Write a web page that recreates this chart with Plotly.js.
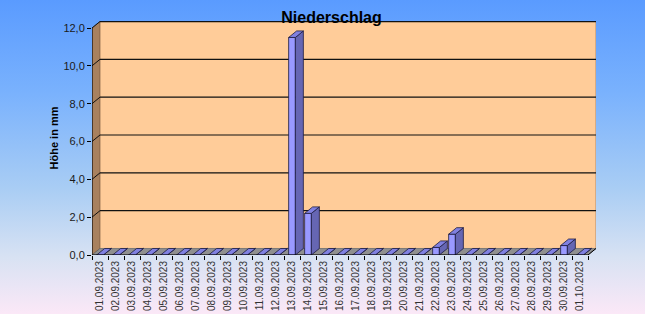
<!DOCTYPE html>
<html>
<head>
<meta charset="utf-8">
<script src="https://cdn.plot.ly/plotly-3.0.1.min.js"></script>
<style>
  html, body { margin: 0; padding: 0; }
  body { width: 645px; height: 314px; overflow: hidden;
    background: linear-gradient(to bottom, #5a9bff 0%, #7ab2fd 30%, #a9cdf4 60%, #d8e2f3 82%, #fbe8f7 100%); }
  #chart { width: 645px; height: 314px; }
</style>
</head>
<body>
<div id="chart"></div>
<script>
// ---- data ----
const dates = ['01.09.2023','02.09.2023','03.09.2023','04.09.2023','05.09.2023','06.09.2023','07.09.2023',
  '08.09.2023','09.09.2023','10.09.2023','11.09.2023','12.09.2023','13.09.2023','14.09.2023','15.09.2023',
  '16.09.2023','17.09.2023','18.09.2023','19.09.2023','20.09.2023','21.09.2023','22.09.2023','23.09.2023',
  '24.09.2023','25.09.2023','26.09.2023','27.09.2023','28.09.2023','29.09.2023','30.09.2023','01.10.2023'];
const niederschlag = [0,0,0,0,0,0,0,0,0,0,0,0,11.5,2.2,0,0,0,0,0,0,0,0.4,1.1,0,0,0,0,0,0,0.5,0];
const yTicks = [0,2,4,6,8,10,12];
const titleText = 'Niederschlag';
const yTitleText = 'Höhe in mm';

// ---- geometry (3D look) ----
const n = dates.length;
const idx = dates.map((d, i) => i);
const yMax = 12;
const yTop = 12.37;
const dx = 0.5;     // depth offset in category units
const dy = 0.344;   // depth offset in value units
const bw = 0.42;    // bar front width

// side and top faces of bars
const sideX = [], sideY = [], topX = [], topY = [];
niederschlag.forEach((v, i) => {
  const l = i - bw / 2, r = i + bw / 2;
  sideX.push(r, r, r + dx, r + dx, r, null);
  sideY.push(0, v, v + dy, dy, 0, null);
  topX.push(l, l + dx, r + dx, r, l, null);
  topY.push(v, v + dy, v + dy, v, v, null);
});

const traces = [
  { type: 'scatter', mode: 'lines', x: sideX, y: sideY, fill: 'toself',
    fillcolor: '#6666b3', line: { color: '#1a1a40', width: 0.8 }, hoverinfo: 'skip', showlegend: false },
  { type: 'bar', x: idx, y: niederschlag, width: bw, base: 0,
    marker: { color: '#9999ff', line: { color: '#1a1a40', width: 0.8 } }, hoverinfo: 'skip', showlegend: false },
  { type: 'scatter', mode: 'lines', x: topX, y: topY, fill: 'toself',
    fillcolor: '#8080e0', line: { color: '#1a1a40', width: 0.8 }, hoverinfo: 'skip', showlegend: false }
];

// walls, floor, gridlines
const xL = -0.5, xR = n - 0.5;
const shapes = [];
shapes.push({ type: 'rect', xref: 'x', yref: 'y', x0: xL + dx, x1: xR + dx, y0: dy, y1: yMax + dy,
  fillcolor: '#ffcc99', line: { width: 0 }, layer: 'below' });
shapes.push({ type: 'path', xref: 'x', yref: 'y',
  path: `M${xL},0 L${xL},${yMax} L${xL + dx},${yMax + dy} L${xL + dx},${dy} Z`,
  fillcolor: '#a8815f', line: { color: '#6b4f38', width: 0.6 }, layer: 'below' });
shapes.push({ type: 'path', xref: 'x', yref: 'y',
  path: `M${xL},0 L${xR},0 L${xR + dx},${dy} L${xL + dx},${dy} Z`,
  fillcolor: '#8f8f8f', line: { color: '#555555', width: 0.6 }, layer: 'below' });
shapes.push({ type: 'line', xref: 'x', yref: 'y', x0: xR + dx, x1: xR + dx, y0: dy, y1: yMax + dy,
  line: { color: '#b08a6a', width: 1 }, layer: 'below' });
yTicks.filter(t => t > 0).forEach(t => {
  shapes.push({ type: 'line', xref: 'x', yref: 'y', x0: xL + dx, x1: xR + dx, y0: t + dy, y1: t + dy,
    line: { color: '#111111', width: t === yMax ? 1.5 : 1.1 }, layer: 'below' });
  shapes.push({ type: 'line', xref: 'x', yref: 'y', x0: xL, x1: xL + dx, y0: t, y1: t + dy,
    line: { color: '#111111', width: 1 }, layer: 'below' });
});
shapes.push({ type: 'line', xref: 'x', yref: 'y', x0: xL, x1: xL, y0: 0, y1: yMax,
  line: { color: '#000000', width: 1 } });
shapes.push({ type: 'line', xref: 'x', yref: 'y', x0: xL, x1: xR, y0: 0, y1: 0,
  line: { color: '#000000', width: 1 } });
shapes.push({ type: 'line', xref: 'x', yref: 'y', x0: xR, x1: xR + dx, y0: 0, y1: dy,
  line: { color: '#000000', width: 1 } });

const layout = {
  width: 645, height: 314,
  margin: { l: 92, r: 49, t: 21, b: 59, pad: 0 },
  paper_bgcolor: 'rgba(0,0,0,0)', plot_bgcolor: 'rgba(0,0,0,0)',
  separators: ',.',
  font: { family: 'Liberation Sans, Arial, sans-serif', color: '#1a1a1a' },
  title: { text: '<b>' + titleText + '</b>', font: { size: 16, color: '#000000' },
    xref: 'container', yref: 'container', x: 0.514, y: 1 - 17 / 314, xanchor: 'center', yanchor: 'middle' },
  showlegend: false,
  bargap: 0,
  xaxis: {
    range: [xL, xR + dx], tickmode: 'array', tickvals: idx, ticktext: dates, tickangle: -90,
    ticks: '', showgrid: false, zeroline: false, showline: false, fixedrange: true,
    tickfont: { size: 10, color: '#333333' }, ticklabelstandoff: 3,
    minor: { tickmode: 'linear', tick0: -0.5, dtick: 1, ticks: 'outside', ticklen: 4, tickcolor: '#000000', showgrid: false }
  },
  yaxis: {
    range: [0, yTop], tickmode: 'array', tickvals: yTicks, tickformat: '.1f',
    ticks: 'outside', ticklen: 4, tickcolor: '#000000', showgrid: false, zeroline: false, showline: false,
    tickfont: { size: 11, color: '#1a1a1a' }, fixedrange: true,
    title: { text: '<b>' + yTitleText + '</b>', font: { size: 11, color: '#000000' }, standoff: 2 }
  },
  shapes: shapes
};

Plotly.newPlot('chart', traces, layout, { displayModeBar: false, staticPlot: true });
</script>
</body>
</html>
